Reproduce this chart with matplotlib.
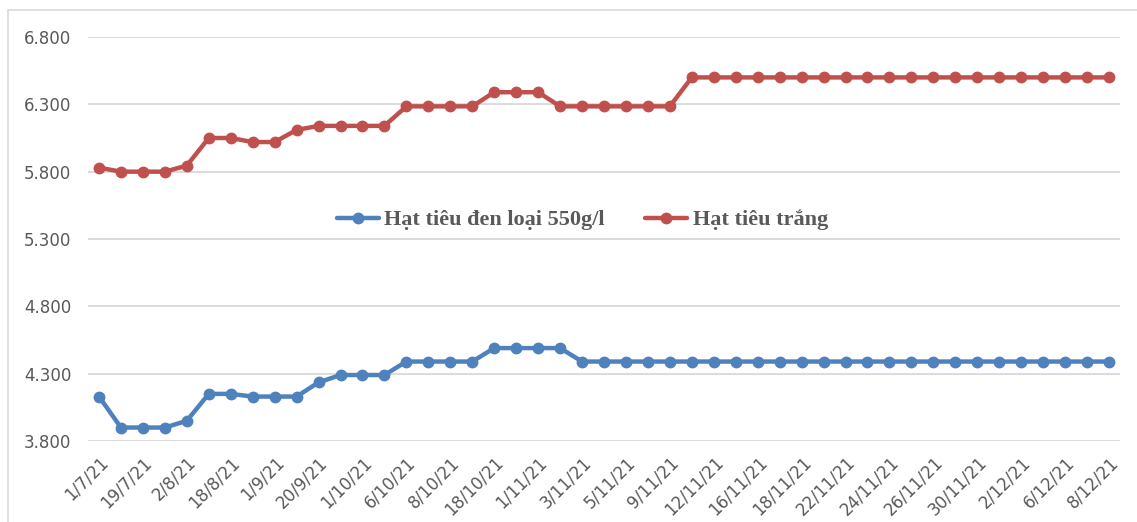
import matplotlib
matplotlib.use("Agg")
import matplotlib.pyplot as plt
from matplotlib.ticker import FuncFormatter, FixedLocator
from matplotlib.patches import Rectangle

# Tick labels shown on the date axis (every second observation)
date_labels = [
    "1/7/21", "19/7/21", "2/8/21", "18/8/21", "1/9/21", "20/9/21",
    "1/10/21", "6/10/21", "8/10/21", "18/10/21", "1/11/21", "3/11/21",
    "5/11/21", "9/11/21", "12/11/21", "16/11/21", "18/11/21", "22/11/21",
    "24/11/21", "26/11/21", "30/11/21", "2/12/21", "6/12/21", "8/12/21",
]

# Prices (USD/tấn), one value per observation
black_pepper = [
    4130, 3900, 3900, 3900, 3950, 4150, 4150, 4130, 4130, 4130,
    4235, 4290, 4290, 4290, 4390, 4390, 4390, 4390, 4490, 4490,
    4490, 4490, 4390, 4390, 4390, 4390, 4390, 4390, 4390, 4390,
    4390, 4390, 4390, 4390, 4390, 4390, 4390, 4390, 4390, 4390,
    4390, 4390, 4390, 4390, 4390, 4390, 4390,
]
white_pepper = [
    5830, 5800, 5800, 5800, 5845, 6050, 6050, 6020, 6020, 6110,
    6140, 6140, 6140, 6140, 6285, 6285, 6285, 6285, 6390, 6390,
    6390, 6285, 6285, 6285, 6285, 6285, 6285, 6500, 6500, 6500,
    6500, 6500, 6500, 6500, 6500, 6500, 6500, 6500, 6500, 6500,
    6500, 6500, 6500, 6500, 6500, 6500, 6500,
]

series_names = ["Hạt tiêu đen loại 550g/l", "Hạt tiêu trắng"]
y_ticks = [3800, 4300, 4800, 5300, 5800, 6300, 6800]

BLUE = "#4F81BD"
RED = "#C0504D"
TEXT = "#595959"
GRID = "#D9D9D9"

fig = plt.figure(figsize=(11.37, 5.22), dpi=100)
ax = fig.add_axes([88 / 1137, 1 - 441 / 522, (1120 - 88) / 1137, (441 - 37) / 522])

x = list(range(len(black_pepper)))
ax.plot(x, black_pepper, color=BLUE, lw=3.2, marker="o", ms=7.5,
        label=series_names[0], solid_capstyle="round", zorder=3)
ax.plot(x, white_pepper, color=RED, lw=3.2, marker="o", ms=7.5,
        label=series_names[1], solid_capstyle="round", zorder=3)

ax.set_xlim(-0.5, len(x) - 0.5)
ax.set_ylim(3800, 6800)
ax.yaxis.set_major_locator(FixedLocator(y_ticks))
ax.yaxis.set_major_formatter(FuncFormatter(lambda v, p: f"{v:,.0f}".replace(",", ".")))
ax.grid(axis="y", color=GRID, lw=1.3)
ax.set_axisbelow(True)

ax.set_xticks(x[::2])
ax.set_xticklabels(date_labels, rotation=45, ha="right", rotation_mode="anchor")

for s in ax.spines.values():
    s.set_visible(False)
ax.tick_params(axis="both", length=0, colors=TEXT, labelsize=12)
ax.tick_params(axis="y", pad=12)
ax.tick_params(axis="x", pad=9)

leg = ax.legend(loc="center", bbox_to_anchor=(0.479, 0.547), ncol=2, frameon=False,
                prop={"family": "Liberation Serif", "weight": "bold", "size": 16},
                handlelength=1.9, handletextpad=0.25, columnspacing=1.8)
for t in leg.get_texts():
    t.set_color(TEXT)

# Outer chart border
fig.add_artist(Rectangle((8 / 1137, -0.05), 1.1, 1 - 10 / 522 + 0.05,
                         transform=fig.transFigure, fill=False,
                         edgecolor="#D9D9D9", lw=1.2))

fig.savefig("out.png", dpi=100)
